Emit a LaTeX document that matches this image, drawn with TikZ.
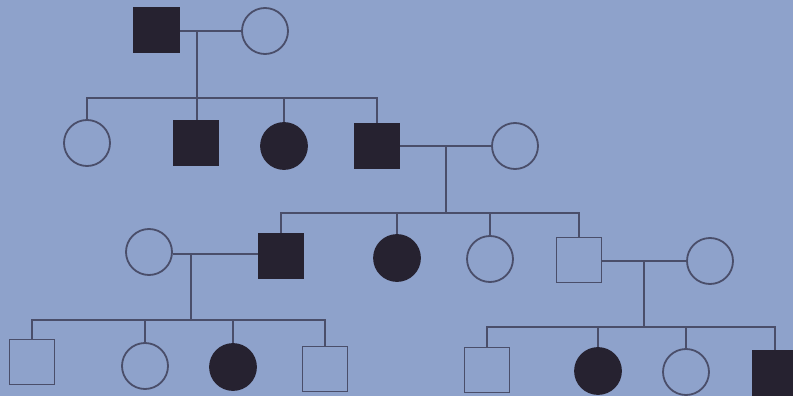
\documentclass[tikz,border=0pt]{standalone}
\definecolor{bg}{RGB}{142,162,203}
\definecolor{ink}{RGB}{74,78,106}
\definecolor{fillk}{RGB}{38,34,48}
\tikzset{
  male/.style={draw=ink, line width=1.8pt, minimum size=45pt, inner sep=0pt, rectangle},
  female/.style={draw=ink, line width=1.8pt, minimum size=46pt, inner sep=0pt, circle},
  aff/.style={fill=fillk, draw=fillk},
  link/.style={draw=ink, line width=1.6pt},
}
\begin{document}
\begin{tikzpicture}[x=1pt,y=-1pt]
\useasboundingbox (0,0) rectangle (793,396);
\clip (0,0) rectangle (793,396);
\fill[bg] (0,0) rectangle (793,396);
% Generation I
\node[male,aff] (i1) at (156.5,30) {};
\node[female] (i2) at (265,31) {};
% Generation II
\node[female] (ii1) at (87,143) {};
\node[male,aff] (ii2) at (196,143) {};
\node[female,aff] (ii3) at (284,146) {};
\node[male,aff] (ii4) at (377,146) {};
\node[female] (ii5) at (515,146) {};
% Generation III
\node[female] (iii1) at (149,252) {};
\node[male,aff] (iii2) at (281,256) {};
\node[female,aff] (iii3) at (397,258) {};
\node[female] (iii4) at (490,259) {};
\node[male] (iii5) at (579,260) {};
\node[female] (iii6) at (710,261) {};
% Generation IV
\node[male] (iv1) at (32,362) {};
\node[female] (iv2) at (145,366) {};
\node[female,aff] (iv3) at (233,367) {};
\node[male] (iv4) at (325,369) {};
\node[male] (iv5) at (487,370) {};
\node[female,aff] (iv6) at (598,371) {};
\node[female] (iv7) at (686,372) {};
\node[male,aff] (iv8) at (775,373) {};
% Marriage lines
\draw[link] (i1.east |- 0,31) -- (i2.west |- 0,31);
\draw[link] (ii4.east) -- (ii5.west);
\draw[link] (iii1.east |- 0,254) -- (iii2.west |- 0,254);
\draw[link] (iii5.east |- 0,261) -- (iii6.west |- 0,261);
% Family 1
\coordinate (m1) at (197,31);
\coordinate (s1) at (197,98);
\draw[link] (m1) -- (ii2.north -| m1);
\draw[link] (ii1.north) -- (ii1.north |- s1) -- (ii4.north |- s1) -- (ii4.north);
\draw[link] (ii3.north) -- (ii3.north |- s1);
% Family 2
\coordinate (m2) at (446,146);
\coordinate (s2) at (446,213);
\draw[link] (m2) -- (s2);
\draw[link] (iii2.north) -- (iii2.north |- s2) -- (iii5.north |- s2) -- (iii5.north);
\draw[link] (iii3.north) -- (iii3.north |- s2);
\draw[link] (iii4.north) -- (iii4.north |- s2);
% Family 3
\coordinate (m3) at (191,254);
\coordinate (s3) at (191,320);
\draw[link] (m3) -- (s3);
\draw[link] (iv1.north) -- (iv1.north |- s3) -- (iv4.north |- s3) -- (iv4.north);
\draw[link] (iv2.north) -- (iv2.north |- s3);
\draw[link] (iv3.north) -- (iv3.north |- s3);
% Family 4
\coordinate (m4) at (644,261);
\coordinate (s4) at (644,327);
\draw[link] (m4) -- (s4);
\draw[link] (iv5.north) -- (iv5.north |- s4) -- (iv8.north |- s4) -- (iv8.north);
\draw[link] (iv6.north) -- (iv6.north |- s4);
\draw[link] (iv7.north) -- (iv7.north |- s4);
\end{tikzpicture}
\end{document}
